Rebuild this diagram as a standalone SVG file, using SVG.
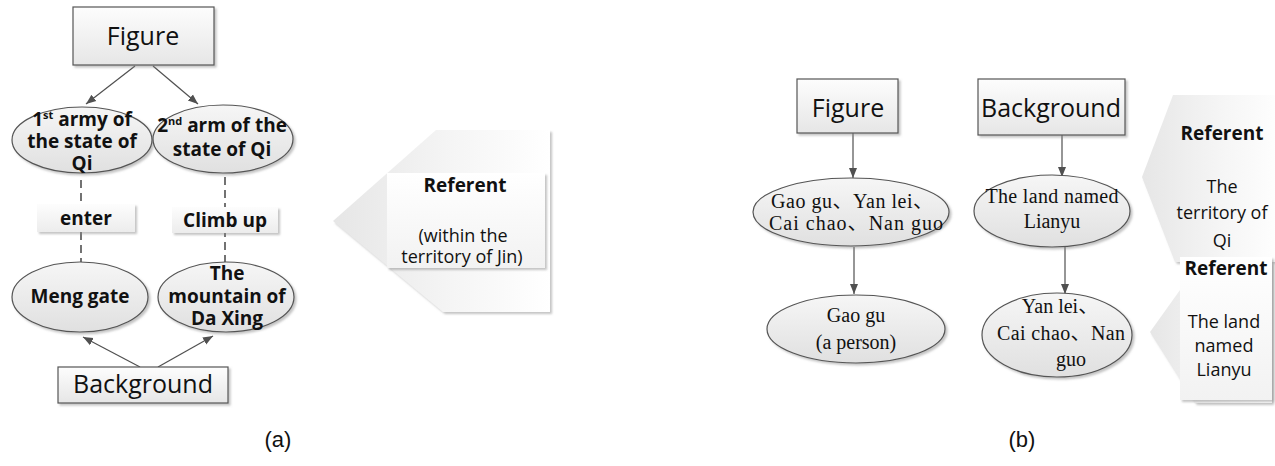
<svg xmlns="http://www.w3.org/2000/svg" width="1275" height="466" viewBox="0 0 1275 466">
<defs>
<linearGradient id="boxG" x1="0" y1="0" x2="0" y2="1"><stop offset="0" stop-color="#fdfdfd"/><stop offset="1" stop-color="#e6e6e6"/></linearGradient>
<linearGradient id="ellG" x1="0" y1="0" x2="0" y2="1"><stop offset="0" stop-color="#f6f6f6"/><stop offset="1" stop-color="#e0e0e0"/></linearGradient>
<linearGradient id="labG" x1="0" y1="0" x2="0" y2="1"><stop offset="0" stop-color="#fdfdfd"/><stop offset="1" stop-color="#ececec"/></linearGradient>
<linearGradient id="penG" x1="0" y1="0" x2="1" y2="0"><stop offset="0" stop-color="#e6e6e6"/><stop offset="0.55" stop-color="#f5f5f5"/><stop offset="1" stop-color="#ffffff"/></linearGradient>
<linearGradient id="inG" x1="0" y1="0" x2="0" y2="1"><stop offset="0" stop-color="#ffffff"/><stop offset="1" stop-color="#f2f2f2"/></linearGradient>
<filter id="sh" x="-10%" y="-10%" width="125%" height="130%"><feDropShadow dx="2" dy="2" stdDeviation="1" flood-color="#888" flood-opacity="0.5"/></filter>
<marker id="ar" viewBox="0 0 10 10" refX="10" refY="5" markerWidth="10" markerHeight="10" markerUnits="userSpaceOnUse" orient="auto"><path d="M0,1 L10,5 L0,9 Z" fill="#505050"/></marker>
<style>
.box{fill:url(#boxG);stroke:#555;stroke-width:1.2;filter:url(#sh)}
.ell{fill:url(#ellG);stroke:#555;stroke-width:1.2;filter:url(#sh)}
.lab{fill:url(#labG);filter:url(#sh)}
.pen{fill:url(#penG);filter:url(#sh)}
.inr{fill:url(#inG);filter:url(#sh)}
.big{font-family:"Open Sans","Noto Sans",sans-serif;font-size:25px;fill:#111;text-anchor:middle}
.bold{font-family:"Open Sans","Noto Sans",sans-serif;font-weight:bold;font-size:19px;fill:#111;text-anchor:middle}
.reg{font-family:"Open Sans","Noto Sans",sans-serif;font-size:18px;fill:#111;text-anchor:middle}
.ser{font-family:"Liberation Serif","Noto Sans CJK SC",serif;font-size:20px;fill:#111;text-anchor:middle}
.cap{font-family:"Liberation Sans",Arial,sans-serif;font-size:22px;fill:#111;text-anchor:middle}
.sup{font-size:11px;baseline-shift:super}
.con{stroke:#505050;stroke-width:1.2;fill:none}
.dash{stroke:#505050;stroke-width:1.6;stroke-dasharray:8 5;fill:none}
</style>
</defs>
<rect width="1275" height="466" fill="#fff"/>

<g id="connectors">
<line class="con" x1="135" y1="66" x2="86" y2="104" marker-end="url(#ar)"/>
<line class="con" x1="153" y1="66" x2="198" y2="104" marker-end="url(#ar)"/>
<line class="con" x1="140" y1="367" x2="83" y2="337" marker-end="url(#ar)"/>
<line class="con" x1="158" y1="367" x2="213" y2="336" marker-end="url(#ar)"/>
<line class="dash" x1="81" y1="180" x2="81" y2="262"/>
<line class="dash" x1="225" y1="177" x2="225" y2="262"/>
<line class="con" x1="853" y1="133" x2="853" y2="178" marker-end="url(#ar)"/>
<line class="con" x1="854" y1="247" x2="854" y2="294" marker-end="url(#ar)"/>
<line class="con" x1="1062" y1="135" x2="1062" y2="177" marker-end="url(#ar)"/>
<line class="con" x1="1065" y1="247" x2="1065" y2="294" marker-end="url(#ar)"/>
</g>

<g id="a-figure"><rect class="box" x="73" y="7" width="141" height="58"/><text class="big" x="143" y="45">Figure</text></g>
<g id="a-army1"><ellipse class="ell" cx="82" cy="140" rx="70" ry="33"/>
<text class="bold" x="82" y="126" font-size="17px">1<tspan class="sup" font-size="10.5px">st</tspan> army of</text>
<text class="bold" x="82" y="148" font-size="17px">the state of</text><text class="bold" x="82" y="170" font-size="17px">Qi</text></g>
<g id="a-army2"><ellipse class="ell" cx="223" cy="139" rx="70" ry="34"/>
<text class="bold" x="222" y="132">2<tspan class="sup" font-size="12px">nd</tspan> arm of the</text>
<text class="bold" x="222" y="156">state of Qi</text></g>
<g id="a-enter"><rect class="lab" x="37" y="204" width="98" height="28"/><text class="bold" x="86" y="225" font-size="21px">enter</text></g>
<g id="a-climb"><rect class="lab" x="172" y="207" width="106" height="26"/><text class="bold" x="225" y="227">Climb up</text></g>
<g id="a-meng"><ellipse class="ell" cx="80" cy="297" rx="68" ry="35"/><text class="bold" x="80" y="303">Meng gate</text></g>
<g id="a-mountain"><ellipse class="ell" cx="226" cy="297" rx="68" ry="35"/>
<text class="bold" x="227" y="280">The</text><text class="bold" x="227" y="303">mountain of</text><text class="bold" x="227" y="325">Da Xing</text></g>
<g id="a-background"><rect class="box" x="58" y="367" width="170" height="36"/><text class="big" x="143" y="393">Background</text></g>
<g id="a-referent"><polygon class="pen" points="550,130 436,130 333,221 443,312 550,312"/>
<rect class="inr" x="387" y="173" width="158" height="95"/>
<text class="bold" x="465" y="192" font-size="22px">Referent</text>
<text class="reg" x="463" y="242" font-size="21px">(within the</text>
<text class="reg" x="462" y="263" font-size="21px">territory of Jin)</text></g>
<text class="cap" x="278" y="447">(a)</text>

<g id="b-figure"><rect class="box" x="797" y="79" width="101" height="54"/><text class="big" x="848" y="117" font-size="24px">Figure</text></g>
<g id="b-names"><ellipse class="ell" cx="851" cy="212" rx="98" ry="34"/>
<text class="ser" x="852" y="208" textLength="162" lengthAdjust="spacing">Gao gu、Yan lei、</text>
<text class="ser" x="856" y="230" textLength="174" lengthAdjust="spacing">Cai chao、Nan guo</text></g>
<g id="b-gaogu"><ellipse class="ell" cx="856" cy="329" rx="89" ry="34"/>
<text class="ser" x="856" y="322">Gao gu</text><text class="ser" x="856" y="349">(a person)</text></g>
<g id="b-background"><rect class="box" x="978" y="79" width="147" height="56"/><text class="big" x="1051" y="117" font-size="24px">Background</text></g>
<g id="b-land"><ellipse class="ell" cx="1052" cy="211" rx="78" ry="36"/>
<text class="ser" x="1052" y="203" textLength="133" lengthAdjust="spacing">The land named</text>
<text class="ser" x="1052" y="228">Lianyu</text></g>
<g id="b-yanlei"><ellipse class="ell" cx="1057" cy="335" rx="75" ry="42"/>
<text class="ser" x="1060" y="313">Yan lei、</text>
<text class="ser" x="1061" y="340" textLength="128" lengthAdjust="spacing">Cai chao、Nan</text>
<text class="ser" x="1071" y="366">guo</text></g>
<g id="b-referent1"><polygon class="pen" points="1285,95 1173,95 1142,177 1175,262 1285,262"/>
<text class="bold" x="1222" y="140">Referent</text>
<text class="reg" x="1222" y="193">The</text><text class="reg" x="1222" y="219">territory of</text><text class="reg" x="1222" y="247">Qi</text></g>
<g id="b-referent2"><polygon class="pen" points="1272,262 1200,262 1150,332 1195,403 1272,403"/>
<rect class="inr" x="1180" y="257" width="92" height="143"/>
<text class="bold" x="1226" y="275">Referent</text>
<text class="reg" x="1224" y="328">The land</text><text class="reg" x="1224" y="352">named</text><text class="reg" x="1224" y="376">Lianyu</text></g>
<text class="cap" x="1022" y="447">(b)</text>
</svg>
